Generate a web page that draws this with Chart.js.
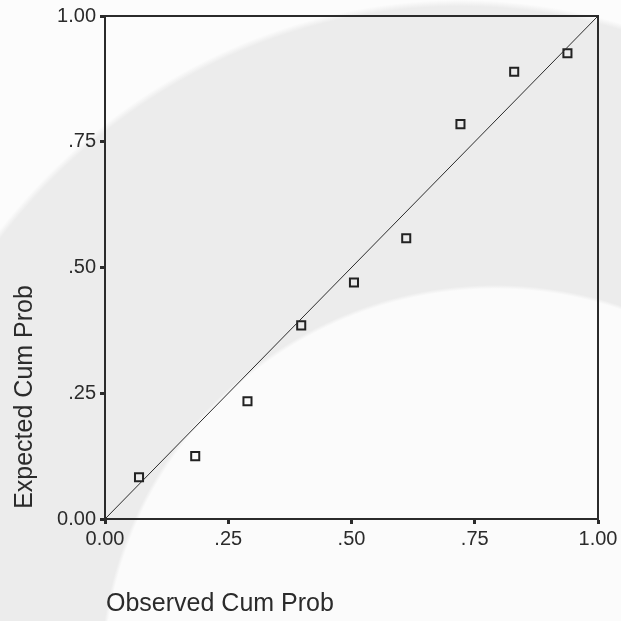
<!DOCTYPE html>
<html>
<head>
<meta charset="utf-8">
<script src="https://cdn.jsdelivr.net/npm/chart.js@4/dist/chart.umd.min.js"></script>
<style>
    html, body { margin: 0; padding: 0; }
    body {
        width: 621px;
        height: 621px;
        overflow: hidden;
        background:
            radial-gradient(circle 395px at 495px 680px, #fbfbfb 99%, rgba(251,251,251,0) 100%),
            radial-gradient(ellipse 600px 640px at 460px 640px, #ececec 99%, #fcfcfc 100%);
    }
</style>
</head>
<body>
<canvas id="ppChart" width="621" height="621"></canvas>
<script>
// P-P plot data
const observedCumProb = [0.069, 0.183, 0.289, 0.398, 0.505, 0.611, 0.721, 0.830, 0.938];
const expectedCumProb = [0.083, 0.125, 0.234, 0.385, 0.470, 0.558, 0.785, 0.889, 0.926];
const diagonalX = [0, 1];
const diagonalY = [0, 1];
const tickValues = [0, 0.25, 0.5, 0.75, 1];
const tickLabels = ['0.00', '.25', '.50', '.75', '1.00'];
const xTitle = 'Observed Cum Prob';
const yTitle = 'Expected Cum Prob';

const ink = '#2b2b2b';
const fontFamily = '"Liberation Sans", Arial, sans-serif';

const points = observedCumProb.map((x, i) => ({ x: x, y: expectedCumProb[i] }));
const diagonal = diagonalX.map((x, i) => ({ x: x, y: diagonalY[i] }));

const tickLabel = (value) => {
    const idx = tickValues.findIndex(v => Math.abs(v - value) < 1e-9);
    return idx >= 0 ? tickLabels[idx] : '';
};

// frame on top/right plus the two axis titles
const framePlugin = {
    id: 'frame',
    afterDraw(chart) {
        const { ctx, chartArea } = chart;
        ctx.save();
        ctx.strokeStyle = ink;
        ctx.lineWidth = 2;
        ctx.beginPath();
        ctx.moveTo(chartArea.left, chartArea.top);
        ctx.lineTo(chartArea.right, chartArea.top);
        ctx.lineTo(chartArea.right, chartArea.bottom);
        ctx.stroke();

        ctx.fillStyle = ink;
        ctx.font = '25px ' + fontFamily;
        ctx.textBaseline = 'alphabetic';
        ctx.textAlign = 'left';
        ctx.fillText(xTitle, 106, 611);

        ctx.translate(32, 397);
        ctx.rotate(-Math.PI / 2);
        ctx.textAlign = 'center';
        ctx.fillText(yTitle, 0, 0);
        ctx.restore();
    }
};

const axisCommon = {
    type: 'linear',
    min: 0,
    max: 1,
    ticks: {
        stepSize: 0.25,
        color: ink,
        font: { size: 20, family: fontFamily },
        callback: tickLabel
    },
    grid: {
        drawOnChartArea: false,
        tickLength: 5,
        tickWidth: 3,
        tickColor: ink
    },
    border: { color: ink, width: 2 }
};

const ctx = document.getElementById('ppChart').getContext('2d');
new Chart(ctx, {
    type: 'scatter',
    data: {
        datasets: [
            {
                label: 'Diagonal',
                data: diagonal,
                showLine: true,
                borderColor: ink,
                borderWidth: 1,
                pointRadius: 0,
                fill: false
            },
            {
                label: 'Cum Prob',
                data: points,
                pointStyle: 'rect',
                pointRadius: 5.7,
                borderWidth: 2,
                borderColor: '#222',
                backgroundColor: 'rgba(0,0,0,0)'
            }
        ]
    },
    options: {
        responsive: false,
        animation: false,
        layout: { padding: { top: 15, right: 23, left: 0, bottom: 0 } },
        plugins: {
            legend: { display: false },
            tooltip: { enabled: false }
        },
        scales: {
            x: {
                ...axisCommon,
                ticks: { ...axisCommon.ticks, padding: 3 },
                afterFit: (scale) => { scale.height = 102; }
            },
            y: {
                ...axisCommon,
                ticks: { ...axisCommon.ticks, padding: 4 },
                afterFit: (scale) => { scale.width = 105; }
            }
        }
    },
    plugins: [framePlugin]
});
</script>
</body>
</html>
